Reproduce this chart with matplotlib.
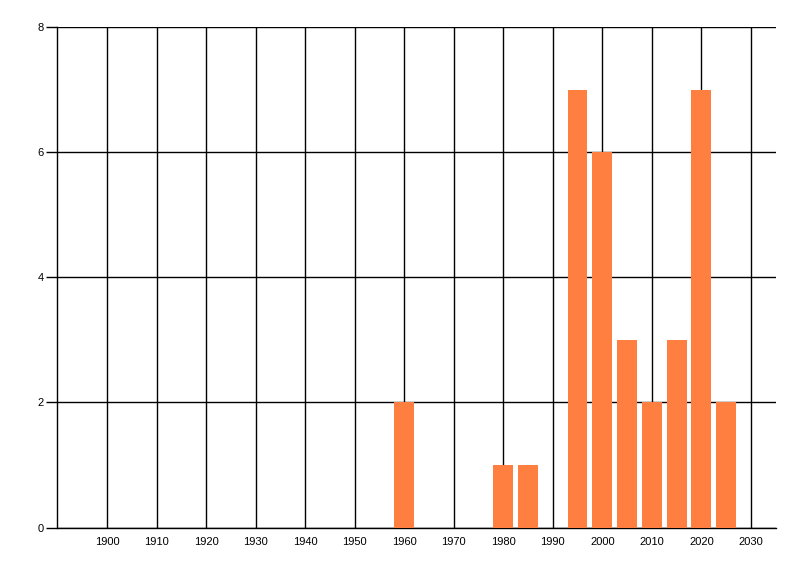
import matplotlib
matplotlib.use("Agg")
import matplotlib.pyplot as plt

plt.rcParams["font.family"] = ["Liberation Sans", "DejaVu Sans"]

years = [1960, 1980, 1985, 1995, 2000, 2005, 2010, 2015, 2020, 2025]
counts = [2, 1, 1, 7, 6, 3, 2, 3, 7, 2]
xticks = list(range(1900, 2031, 10))
yticks = [0, 2, 4, 6, 8]

fig = plt.figure(figsize=(8, 5.76), dpi=100)
ax = fig.add_axes([57.5 / 800, (576 - 527.5) / 576, (775.7 - 57.5) / 800, (527.5 - 27) / 576])

ax.bar(years, counts, width=4, color="#FF7F40", zorder=3)

ax.set_xlim(1890, 2035)
ax.set_ylim(0, 8)
ax.set_xticks(xticks)
ax.set_yticks(yticks)
ax.grid(True, color="black", linewidth=1, zorder=0)
ax.set_axisbelow(True)

for s in ["top", "right"]:
    ax.spines[s].set_visible(False)
for s in ["left", "bottom"]:
    ax.spines[s].set_color("black")
    ax.spines[s].set_linewidth(1)

ax.tick_params(axis="x", length=0, pad=7, labelsize=8)
ax.tick_params(axis="y", length=8, width=1, pad=2, labelsize=8)

fig.savefig("out.png", dpi=100)
